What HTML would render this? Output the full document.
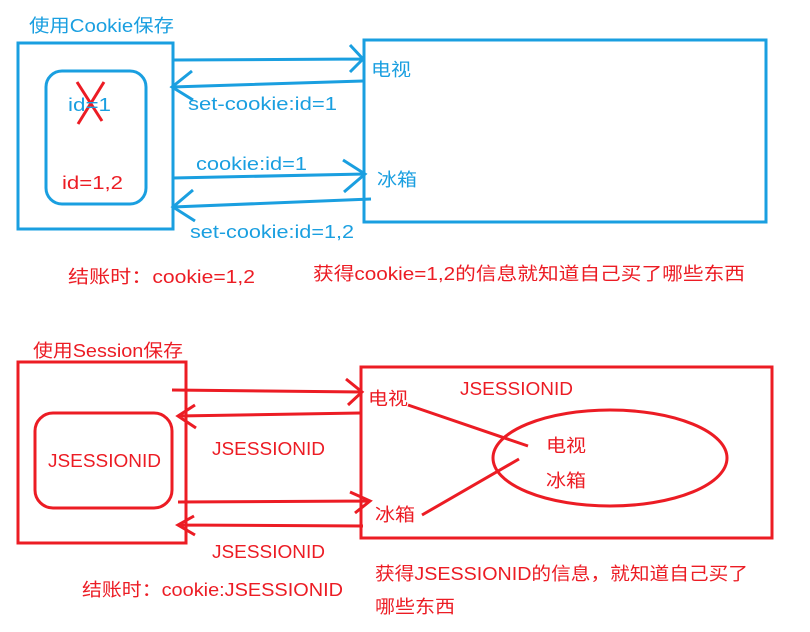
<!DOCTYPE html>
<html><head><meta charset="utf-8"><style>
html,body{margin:0;padding:0;background:#fff;width:810px;height:632px;overflow:hidden}
text{font-family:"Liberation Sans","Noto Sans CJK SC",sans-serif;font-size:18px}
.b{fill:#1a9fe0}.r{fill:#ec1c24}
</style></head><body>
<svg width="810" height="632" viewBox="0 0 810 632" xmlns="http://www.w3.org/2000/svg">
<g fill="none" stroke="#1a9fe0" stroke-width="3">
<rect x="18" y="43" width="155" height="186"/>
<rect x="46" y="71" width="100" height="133" rx="16"/>
<rect x="364" y="40" width="402" height="182"/>
<path d="M173 60 L363 59 M350 45 L363 59 L350 72"/>
<path d="M363 81 L172 87 M192 71 L172 87 L193 100"/>
<path d="M173 178 L365 174 M343 160 L365 174 L344 192"/>
<path d="M371 199 L173 207 M193 190 L173 207 L195 221"/>
</g>
<g stroke="#ec1c24" stroke-width="3" fill="none">
<path d="M77 82 L102 121 M104 82 L78 124"/>
</g>
<text class="b" x="29" y="32" textLength="145" lengthAdjust="spacingAndGlyphs">使用Cookie保存</text>
<text class="b" x="68" y="111" textLength="43" lengthAdjust="spacingAndGlyphs">id=1</text>
<text class="r" x="62" y="189" textLength="61" lengthAdjust="spacingAndGlyphs">id=1,2</text>
<text class="b" x="371" y="76" textLength="40" lengthAdjust="spacingAndGlyphs">电视</text>
<text class="b" x="377" y="186" textLength="40" lengthAdjust="spacingAndGlyphs">冰箱</text>
<text class="b" x="188" y="110" textLength="149" lengthAdjust="spacingAndGlyphs">set-cookie:id=1</text>
<text class="b" x="196" y="170" textLength="111" lengthAdjust="spacingAndGlyphs">cookie:id=1</text>
<text class="b" x="190" y="238" textLength="164" lengthAdjust="spacingAndGlyphs">set-cookie:id=1,2</text>
<text class="r" x="68" y="283" textLength="187" lengthAdjust="spacingAndGlyphs">结账时：cookie=1,2</text>
<text class="r" x="313" y="280" textLength="432" lengthAdjust="spacingAndGlyphs">获得cookie=1,2的信息就知道自己买了哪些东西</text>

<g fill="none" stroke="#ec1c24" stroke-width="3">
<rect x="18" y="362" width="168" height="181"/>
<rect x="35" y="413" width="137" height="95" rx="18"/>
<rect x="361" y="367" width="411" height="171"/>
<ellipse cx="610" cy="458" rx="117" ry="48"/>
<path d="M408 405 L528 446 M422 515 L519 459"/>
<path d="M172 390 L362 392 M346 379 L362 392 L348 405"/>
<path d="M360 413 L178 416 M195 405 L178 416 L196 428"/>
<path d="M178 502 L370 501 M350 492 L370 501 L355 513"/>
<path d="M363 526 L178 525 M194 516 L178 525 L195 535"/>
</g>
<text class="r" x="33" y="357" textLength="150" lengthAdjust="spacingAndGlyphs">使用Session保存</text>
<text class="r" x="48" y="467" textLength="113" lengthAdjust="spacingAndGlyphs">JSESSIONID</text>
<text class="r" x="212" y="455" textLength="113" lengthAdjust="spacingAndGlyphs">JSESSIONID</text>
<text class="r" x="212" y="558" textLength="113" lengthAdjust="spacingAndGlyphs">JSESSIONID</text>
<text class="r" x="82" y="596" textLength="261" lengthAdjust="spacingAndGlyphs">结账时：cookie:JSESSIONID</text>
<text class="r" x="368" y="405" textLength="40" lengthAdjust="spacingAndGlyphs">电视</text>
<text class="r" x="375" y="521" textLength="40" lengthAdjust="spacingAndGlyphs">冰箱</text>
<text class="r" x="460" y="395" textLength="113" lengthAdjust="spacingAndGlyphs">JSESSIONID</text>
<text class="r" x="546" y="452" textLength="40" lengthAdjust="spacingAndGlyphs">电视</text>
<text class="r" x="546" y="487" textLength="40" lengthAdjust="spacingAndGlyphs">冰箱</text>
<text class="r" x="375" y="580" textLength="373" lengthAdjust="spacingAndGlyphs">获得JSESSIONID的信息，就知道自己买了</text>
<text class="r" x="375" y="613" textLength="80" lengthAdjust="spacingAndGlyphs">哪些东西</text>
</svg>
</body></html>
